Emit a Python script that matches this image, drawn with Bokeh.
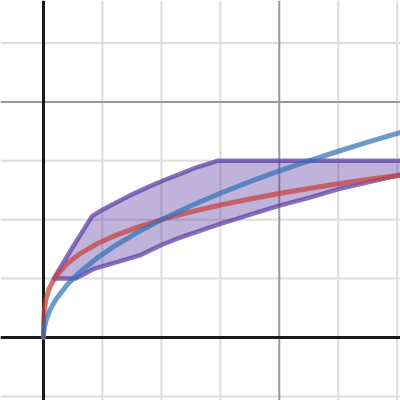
from bokeh.plotting import figure
from bokeh.models import Range1d, Span
from bokeh.embed import file_html
from bokeh.resources import INLINE

# Blue curve samples
blue_x = [0, 0.001, 0.005, 0.02, 0.05, 0.1, 0.2, 0.3, 0.45, 0.6, 0.8, 1.0, 1.25, 1.5, 1.75, 2.0, 2.25, 2.5, 2.75, 3.05, 3.2]
blue_y = [0, 0.0316, 0.0707, 0.1414, 0.2236, 0.3162, 0.4472, 0.5477, 0.6708, 0.7746, 0.8944, 1.0, 1.118, 1.2247, 1.3229, 1.4142, 1.5, 1.5811, 1.6583, 1.7464, 1.7889]

# Red curve samples
red_x = [0, 0.00001, 0.0001, 0.001, 0.005, 0.02, 0.05, 0.1, 0.2, 0.3, 0.45, 0.6, 0.8, 1.0, 1.25, 1.5, 1.75, 2.0, 2.25, 2.5, 2.75, 3.05, 3.2]
red_y = [0, 0.0355, 0.069, 0.135, 0.215, 0.3216, 0.4195, 0.5129, 0.6271, 0.7053, 0.7933, 0.8623, 0.9373, 1.0, 1.0668, 1.1248, 1.1762, 1.2226, 1.2651, 1.3044, 1.341, 1.3818, 1.401]

# Purple region boundary
upper_x = [0.087, 0.243, 0.413, 0.5, 0.654, 0.78, 0.9, 1.02, 1.15, 1.3, 1.475, 3.2]
upper_y = [0.5, 0.76, 1.03, 1.085, 1.165, 1.228, 1.283, 1.335, 1.385, 1.445, 1.5, 1.5]
lower_x = [3.2, 3.05, 2.5, 2.266, 2.0, 1.5, 1.163, 1.0, 0.823, 0.427, 0.33, 0.27, 0.087]
lower_y = [1.41, 1.385, 1.26, 1.19, 1.12, 0.965, 0.85, 0.785, 0.70, 0.583, 0.53, 0.5, 0.5]

# Grid positions
minor_x = [-0.5, 0.5, 1.0, 1.5, 2.5, 3.0]
minor_y = [-0.5, 0.5, 1.0, 1.5, 2.5, 3.0]
major_x = [2.0]
major_y = [2.0]

p = figure(width=400, height=400, output_backend="svg", toolbar_location=None,
           x_range=Range1d(-0.3647, 3.0280), y_range=Range1d(-0.5348, 2.8608),
           min_border=0)
p.axis.visible = False
p.grid.visible = False
p.outline_line_color = None
p.background_fill_color = "white"
p.border_fill_color = "white"

for v in minor_x:
    p.add_layout(Span(location=v, dimension="height", line_color="#dcdcdc", line_width=2, level="underlay"))
for v in minor_y:
    p.add_layout(Span(location=v, dimension="width", line_color="#dcdcdc", line_width=2, level="underlay"))
for v in major_x:
    p.add_layout(Span(location=v, dimension="height", line_color="#999999", line_width=2, level="underlay"))
for v in major_y:
    p.add_layout(Span(location=v, dimension="width", line_color="#999999", line_width=2, level="underlay"))
p.add_layout(Span(location=0, dimension="height", line_color="#1a1a1a", line_width=3, level="underlay"))
p.add_layout(Span(location=0, dimension="width", line_color="#1a1a1a", line_width=3, level="underlay"))

poly_x = upper_x + lower_x
poly_y = upper_y + lower_y
p.patch(poly_x, poly_y, fill_color="#6042a6", fill_alpha=0.4,
        line_color="#6042a6", line_alpha=0.75, line_width=4.5, line_join="round")

p.line(red_x, red_y, line_color="#c74440", line_alpha=0.75, line_width=5, line_cap="round", line_join="round")
p.line(blue_x, blue_y, line_color="#2d70b3", line_alpha=0.7, line_width=5, line_cap="round", line_join="round")

open("out.html", "w").write(file_html(p, INLINE))
